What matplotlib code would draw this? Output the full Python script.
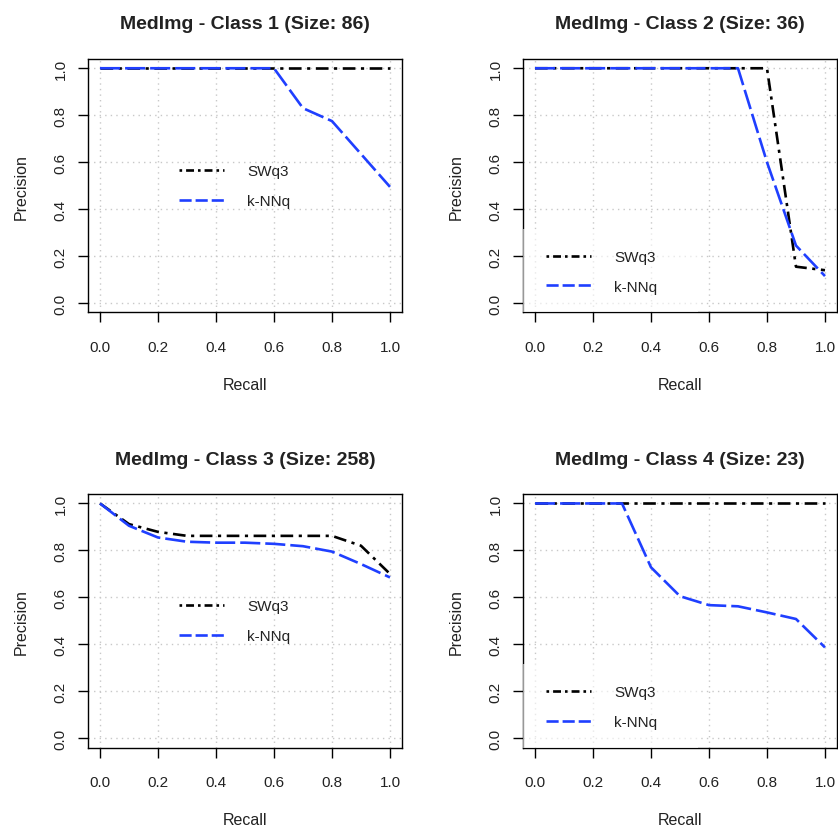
import matplotlib
matplotlib.use('Agg')
import matplotlib.pyplot as plt
from matplotlib.patches import Rectangle
from matplotlib.lines import Line2D

plt.rcParams['font.family'] = ['Liberation Sans', 'DejaVu Sans']

# recall levels (11-point)
recall = [0.0, 0.1, 0.2, 0.3, 0.4, 0.5, 0.6, 0.7, 0.8, 0.9, 1.0]

class_ids = [1, 2, 3, 4]
class_sizes = [86, 36, 258, 23]

swq3_c1 = [1.0, 1.0, 1.0, 1.0, 1.0, 1.0, 1.0, 1.0, 1.0, 1.0, 1.0]
knn_c1 = [1.0, 1.0, 1.0, 1.0, 1.0, 1.0, 1.0, 0.83, 0.775, 0.635, 0.495]

swq3_c2 = [1.0, 1.0, 1.0, 1.0, 1.0, 1.0, 1.0, 1.0, 1.0, 0.155, 0.14]
knn_c2 = [1.0, 1.0, 1.0, 1.0, 1.0, 1.0, 1.0, 1.0, 0.60, 0.245, 0.115]

swq3_c3 = [1.0, 0.912, 0.879, 0.862, 0.862, 0.862, 0.862, 0.862, 0.862, 0.82, 0.70]
knn_c3 = [1.0, 0.905, 0.855, 0.837, 0.833, 0.833, 0.828, 0.818, 0.795, 0.742, 0.685]

swq3_c4 = [1.0, 1.0, 1.0, 1.0, 1.0, 1.0, 1.0, 1.0, 1.0, 1.0, 1.0]
knn_c4 = [1.0, 1.0, 1.0, 1.0, 0.728, 0.605, 0.567, 0.562, 0.536, 0.508, 0.387]

swq3_all = [swq3_c1, swq3_c2, swq3_c3, swq3_c4]
knn_all = [knn_c1, knn_c2, knn_c3, knn_c4]

ticks = [0.0, 0.2, 0.4, 0.6, 0.8, 1.0]
tick_labels = ['0.0', '0.2', '0.4', '0.6', '0.8', '1.0']

fig = plt.figure(figsize=(8.38, 8.28), dpi=100)

# axes boxes [left, bottom, width, height]
boxes = [
    [0.1055, 0.6214, 0.3737, 0.3063],
    [0.6246, 0.6214, 0.3737, 0.3063],
    [0.1055, 0.0958, 0.3737, 0.3063],
    [0.6246, 0.0958, 0.3737, 0.3063],
]
# legend anchor (left edge of handle, vertical centre)
legend_anchor = [(0.289, 0.498), (0.072, 0.160), (0.289, 0.499), (0.072, 0.160)]

text_col = '#222222'
blue = '#1f3fff'
lw = 1.9
swq3_dash = (0, (4.8, 2.1, 1.2, 2.1))
knn_dash = (0, (7.6, 1.9))

# legend keys use a shorter pattern, as in the original
leg_handles = [
    Line2D([], [], color='black', linewidth=lw, linestyle=(0, (1.0, 1.5, 3.0, 1.5))),
    Line2D([], [], color=blue, linewidth=lw, linestyle=(0, (4.6, 1.5))),
]

for i in range(4):
    ax = fig.add_axes(boxes[i])
    ax.plot(recall, swq3_all[i], color='black', linewidth=lw,
            linestyle=swq3_dash, zorder=2)
    ax.plot(recall, knn_all[i], color=blue, linewidth=lw,
            linestyle=knn_dash, zorder=2.1)

    ax.set_xlim(-0.04, 1.04)
    ax.set_ylim(-0.04, 1.04)
    ax.set_xticks(ticks)
    ax.set_xticklabels(tick_labels)
    ax.set_yticks(ticks)
    ax.set_yticklabels(tick_labels, rotation=90, va='center')
    ax.tick_params(direction='out', length=7.5, width=1, labelsize=11,
                   colors='black', labelcolor=text_col)
    ax.tick_params(axis='x', pad=12)
    ax.tick_params(axis='y', pad=7.5)
    for sp in ax.spines.values():
        sp.set_linewidth(1)
        sp.set_color('black')

    ax.set_axisbelow(True)
    ax.grid(True, color='#c8c8c8', linestyle=(0, (1, 3)), linewidth=1.0)

    ax.set_title('MedImg - Class %d (Size: %d)' % (class_ids[i], class_sizes[i]),
                 fontweight='bold', fontsize=14, pad=22, color=text_col)
    ax.set_xlabel('Recall', fontsize=11.5, labelpad=17, color=text_col)
    ax.set_ylabel('Precision', fontsize=11.5, labelpad=18, color=text_col)

    if i % 2 == 1:
        ax.add_patch(Rectangle((0, 0), 0.557, 0.329, transform=ax.transAxes,
                               facecolor='white', edgecolor='none', alpha=0.6,
                               zorder=3, clip_on=False))

    leg = ax.legend(leg_handles, ['SWq3', 'k-NNq'], loc='center left',
                    bbox_to_anchor=legend_anchor[i],
                    frameon=False, fontsize=11, borderpad=0, borderaxespad=0,
                    handlelength=2.95, handletextpad=1.5, labelspacing=1.02)
    leg.set_zorder(5)
    for t in leg.get_texts():
        t.set_color(text_col)

fig.savefig('out.png', dpi=100)
